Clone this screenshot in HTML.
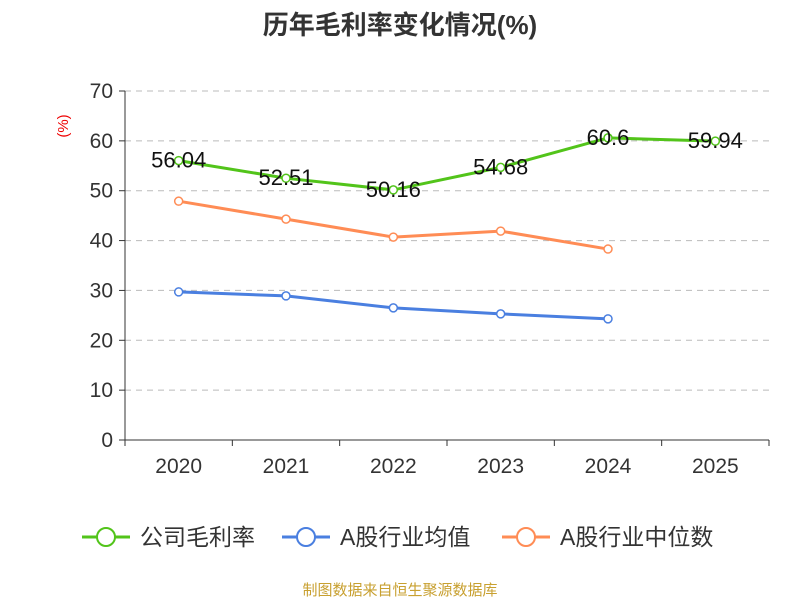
<!DOCTYPE html>
<html><head><meta charset="utf-8"><style>
body{margin:0;background:#fff;font-family:"Liberation Sans","Noto Sans CJK SC",sans-serif}
</style></head><body>
<svg id="c" width="800" height="600" xmlns="http://www.w3.org/2000/svg">
<text x="400" y="34" text-anchor="middle" font-size="26" font-weight="bold" fill="#333">历年毛利率变化情况(%)</text>
<text x="68" y="126" text-anchor="middle" font-size="15" fill="#e00" transform="rotate(-90 68 126)">(%)</text>
<g id="grid"></g><g id="axes"></g><g id="series"></g>
<g font-size="23" fill="#333">
<g><line x1="82" y1="537" x2="130" y2="537" stroke="#52c41a" stroke-width="3"/><circle cx="106" cy="537" r="9" fill="#fff" stroke="#52c41a" stroke-width="2"/><text x="140" y="545">公司毛利率</text></g>
<g><line x1="282" y1="537" x2="330" y2="537" stroke="#4a7fe0" stroke-width="3"/><circle cx="306" cy="537" r="9" fill="#fff" stroke="#4a7fe0" stroke-width="2"/><text x="340" y="545">A股行业均值</text></g>
<g><line x1="502" y1="537" x2="550" y2="537" stroke="#ff8c55" stroke-width="3"/><circle cx="526" cy="537" r="9" fill="#fff" stroke="#ff8c55" stroke-width="2"/><text x="560" y="545">A股行业中位数</text></g>
</g>
<text x="400" y="595" text-anchor="middle" font-size="15" fill="#c8a030">制图数据来自恒生聚源数据库</text>
</svg>
<script>
const categories=["2020","2021","2022","2023","2024","2025"];
const company=[56.04,52.51,50.16,54.68,60.6,59.94];
const industryAvg=[29.7,28.9,26.5,25.3,24.3];
const industryMedian=[47.9,44.3,40.7,41.9,38.3];
const yTicks=[0,10,20,30,40,50,60,70];
const NS="http://www.w3.org/2000/svg";
const x0=125,x1=769,yb=440,yt=91;
const xs=i=>x0+(x1-x0)/categories.length*(i+0.5);
const ys=v=>yb-(yb-yt)*v/70;
function mk(t,a,p){const e=document.createElementNS(NS,t);for(const k in a)e.setAttribute(k,a[k]);p.appendChild(e);return e;}
const grid=document.getElementById('grid'),axes=document.getElementById('axes'),ser=document.getElementById('series');
yTicks.forEach(v=>{
 if(v>0){const g=mk('line',{x1:x0,x2:x1,y1:ys(v),y2:ys(v),stroke:'#bbb','stroke-dasharray':'6,5'},grid);
 
 }
 const tk=mk('line',{x1:x0-6,x2:x0,y1:ys(v),y2:ys(v),stroke:'#333'},axes);
 
 
 const t=mk('text',{x:x0-12,y:ys(v)+7,'text-anchor':'end','font-size':21,fill:'#333'},axes);t.textContent=v;
 
 
});
const ya=mk('line',{x1:x0,x2:x0,y1:yt,y2:yb,stroke:'#333'},axes);


const xa=mk('line',{x1:x0,x2:x1,y1:yb,y2:yb,stroke:'#333'},axes);


for(let i=0;i<=categories.length;i++){const xx=x0+(x1-x0)/categories.length*i;
 const tk=mk('line',{x1:xx,x2:xx,y1:yb,y2:yb+6,stroke:'#333'},axes);
 
 }
categories.forEach((c,i)=>{const t=mk('text',{x:xs(i),y:473,'text-anchor':'middle','font-size':21,fill:'#333'},axes);t.textContent=c;
 
 });
function series(d,col,name,labels){
 const p=mk('polyline',{points:d.map((v,i)=>xs(i)+','+ys(v)).join(' '),fill:'none',stroke:col,'stroke-width':3},ser);
 
 
 d.forEach((v,i)=>{const c=mk('circle',{cx:xs(i),cy:ys(v),r:4,fill:'#fff',stroke:col,'stroke-width':1.5},ser);
  
  
  if(labels){const t=mk('text',{x:xs(i),y:ys(v)+7,'text-anchor':'middle','font-size':22,fill:'#111'},ser);t.textContent=v;
   
   }
 });
}
series(industryMedian,'#ff8c55','industry-median',false);
series(industryAvg,'#4a7fe0','industry-average',false);
series(company,'#52c41a','company',true);
</script>
</body></html>
